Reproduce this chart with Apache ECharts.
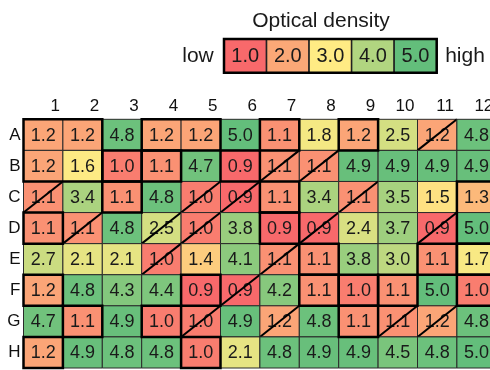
<!DOCTYPE html>
<html><head><meta charset="utf-8">
<script src="https://cdn.jsdelivr.net/npm/echarts@6/dist/echarts.min.js"></script>
<style>html,body{margin:0;padding:0;background:#fff}#c{width:490px;height:370px}</style>
</head><body><div id="c"></div>
<script>
// ---- data ----
const colLabels = ['1','2','3','4','5','6','7','8','9','10','11','12'];
const rowLabels = ['A','B','C','D','E','F','G','H'];
const rowA = [1.2, 1.2, 4.8, 1.2, 1.2, 5.0, 1.1, 1.8, 1.2, 2.5, 1.2, 4.8];
const rowB = [1.2, 1.6, 1.0, 1.1, 4.7, 0.9, 1.1, 1.1, 4.9, 4.9, 4.9, 4.9];
const rowC = [1.1, 3.4, 1.1, 4.8, 1.0, 0.9, 1.1, 3.4, 1.1, 3.5, 1.5, 1.3];
const rowD = [1.1, 1.1, 4.8, 2.5, 1.0, 3.8, 0.9, 0.9, 2.4, 3.7, 0.9, 5.0];
const rowE = [2.7, 2.1, 2.1, 1.0, 1.4, 4.1, 1.1, 1.1, 3.8, 3.0, 1.1, 1.7];
const rowF = [1.2, 4.8, 4.3, 4.4, 0.9, 0.9, 4.2, 1.1, 1.0, 1.1, 5.0, 1.0];
const rowG = [4.7, 1.1, 4.9, 1.0, 1.0, 4.9, 1.2, 4.8, 1.1, 1.1, 1.2, 4.8];
const rowH = [1.2, 4.9, 4.8, 4.8, 1.0, 2.1, 4.8, 4.9, 4.9, 4.5, 4.8, 5.0];
// wells crossed out with a diagonal
const slashedWells = ['A11','B7','B8','C1','C5','C6','C9','D2','D4','D5','D8','D11','E4','E7','F6','G5','G7','G10','G11'];
// wells / well ranges outlined with a thick frame
const framedWells = ['A1:B2','A4:A5','A7','A9','B3','B4','B6','C3','C7','C12:D12','D1','D7','E8','E11','E12',
                     'F1','F5','F8','F9','F10','F12','G2','G4','G9','H1','H5'];
const legendTicks = ['1.0','2.0','3.0','4.0','5.0'];
const legendColors = ['#F8696B','#FBA877','#FFEB84','#B1D580','#63BE7B'];
const colorAnchors = [[0.9,[248,105,107]],[1.55,[255,235,132]],[5.0,[99,190,123]]];

// ---- build ----
const rows = [rowA,rowB,rowC,rowD,rowE,rowF,rowG,rowH];
const cells = [];
rows.forEach((vals, r) => vals.forEach((v, c) => {
  const well = rowLabels[r] + colLabels[c];
  cells.push([c, r, v, slashedWells.includes(well) ? 1 : 0]);
}));
function parseWell(w){ return [colLabels.indexOf(w.slice(1)), rowLabels.indexOf(w[0])]; }
const frames = framedWells.map(s => {
  const parts = s.split(':');
  const a = parseWell(parts[0]), b = parseWell(parts[1] || parts[0]);
  return [a[0], a[1], b[0], b[1]];
});

function colorAt(v){
  let a = colorAnchors[0], b = colorAnchors[1];
  if (v > colorAnchors[1][0]) { a = colorAnchors[1]; b = colorAnchors[2]; }
  const t = Math.max(0, Math.min(1, (v - a[0]) / (b[0] - a[0])));
  const c = a[1].map((x, i) => Math.round(x + (b[1][i] - x) * t));
  return 'rgb(' + c.join(',') + ')';
}
const vmMin = 0.9, vmMax = 5.0;
const stops = [];
for (let k = 0; k <= 41; k++) stops.push(colorAt(vmMin + (vmMax - vmMin) * k / 41));

const FONT = '"Liberation Sans", Arial, sans-serif';

function renderCell(params, api){
  const c = api.value(0), r = api.value(1), v = api.value(2), s = api.value(3);
  const p0 = api.coord([c, r]), p1 = api.coord([c + 1, r + 1]);
  const x = p0[0], y = p0[1], w = p1[0] - p0[0], h = p1[1] - p0[1];
  const ch = [
    {type:'rect', shape:{x, y, width:w, height:h}, style:{fill: api.visual('color'), stroke:'#2a2a2a', lineWidth:1}},
    {type:'text', style:{text: v.toFixed(1), x: x + w/2, y: y + h/2 + 1, align:'center', verticalAlign:'middle', fill:'#1a1a1a', fontSize:18, fontFamily:FONT}}
  ];
  if (s) ch.push({type:'line', shape:{x1:x, y1:y+h, x2:x+w, y2:y}, style:{stroke:'#000', lineWidth:2}});
  return {type:'group', children: ch};
}
function renderFrame(params, api){
  const p0 = api.coord([api.value(0), api.value(1)]), p1 = api.coord([api.value(2) + 1, api.value(3) + 1]);
  return {type:'rect', shape:{x:p0[0], y:p0[1], width:p1[0]-p0[0], height:p1[1]-p0[1]}, style:{fill:null, stroke:'#000', lineWidth:2.5}};
}
function renderLegend(params, api){
  const i = api.value(0);
  const p = api.coord([i, 0]), sz = api.size([1, 1]);
  return {type:'group', children:[
    {type:'rect', shape:{x:p[0]-sz[0]/2, y:p[1]-sz[1]/2, width:sz[0], height:sz[1]}, style:{fill: legendColors[i], stroke:'#222', lineWidth:1.5}},
    {type:'text', style:{text: legendTicks[i], x:p[0], y:p[1]+1, align:'center', verticalAlign:'middle', fill:'#1a1a1a', fontSize:20, fontFamily:FONT}}
  ]};
}
function renderLegendFrame(params, api){
  const a = api.coord([0, 0]), b = api.coord([legendTicks.length - 1, 0]), sz = api.size([1, 1]);
  return {type:'rect', shape:{x:a[0]-sz[0]/2, y:a[1]-sz[1]/2, width:b[0]-a[0]+sz[0], height:sz[1]}, style:{fill:null, stroke:'#000', lineWidth:2.5}};
}

const chart = echarts.init(document.getElementById('c'), null, {renderer:'canvas'});
chart.setOption({
  animation:false,
  backgroundColor:'#fff',
  textStyle:{fontFamily:FONT},
  grid:[
    {left:23.5, top:119.3, width:472.8, height:248.7, containLabel:false, outerBoundsMode:'none'},
    {left:224, top:39, width:212.7, height:33.7, containLabel:false, outerBoundsMode:'none'}
  ],
  xAxis:[
    {type:'value', gridIndex:0, min:0, max:12, interval:1, position:'top',
     axisLine:{show:false}, axisTick:{show:false}, splitLine:{show:false},
     axisLabel:{formatter:v => v === 0 ? '' : colLabels[v-1], align:'right', padding:[0,3,0,0], margin:4, fontSize:17, color:'#111', fontFamily:FONT}},
    {type:'category', gridIndex:1, data:legendTicks, show:false}
  ],
  yAxis:[
    {type:'value', gridIndex:0, min:0, max:8, inverse:true, show:false},
    {type:'category', gridIndex:0, data:rowLabels, inverse:true, position:'left',
     axisLine:{show:false}, axisTick:{show:false}, splitLine:{show:false},
     axisLabel:{margin:3, fontSize:17, color:'#111', fontFamily:FONT}},
    {type:'category', gridIndex:1, data:[''], show:false}
  ],
  visualMap:{type:'continuous', show:false, min:vmMin, max:vmMax, dimension:2, seriesIndex:0, inRange:{color:stops}},
  series:[
    {type:'custom', xAxisIndex:0, yAxisIndex:0, data:cells, renderItem:renderCell, encode:{x:0, y:1}, clip:false},
    {type:'custom', xAxisIndex:0, yAxisIndex:0, data:frames, renderItem:renderFrame, encode:{x:[0,2], y:[1,3]}, clip:false},
    {type:'custom', xAxisIndex:1, yAxisIndex:2, data:legendTicks.map((t, i) => [i, 0]), renderItem:renderLegend, encode:{x:0, y:1}},
    {type:'custom', xAxisIndex:1, yAxisIndex:2, data:[[0, 0]], renderItem:renderLegendFrame, encode:{x:0, y:1}}
  ],
  graphic:[
    {type:'text', style:{text:'Optical density', x:321, y:21, align:'center', verticalAlign:'middle', fontSize:21, fill:'#1a1a1a', fontFamily:FONT}},
    {type:'text', style:{text:'low', x:198, y:56, align:'center', verticalAlign:'middle', fontSize:21, fill:'#1a1a1a', fontFamily:FONT}},
    {type:'text', style:{text:'high', x:465, y:56, align:'center', verticalAlign:'middle', fontSize:21, fill:'#1a1a1a', fontFamily:FONT}}
  ]
});
</script></body></html>
